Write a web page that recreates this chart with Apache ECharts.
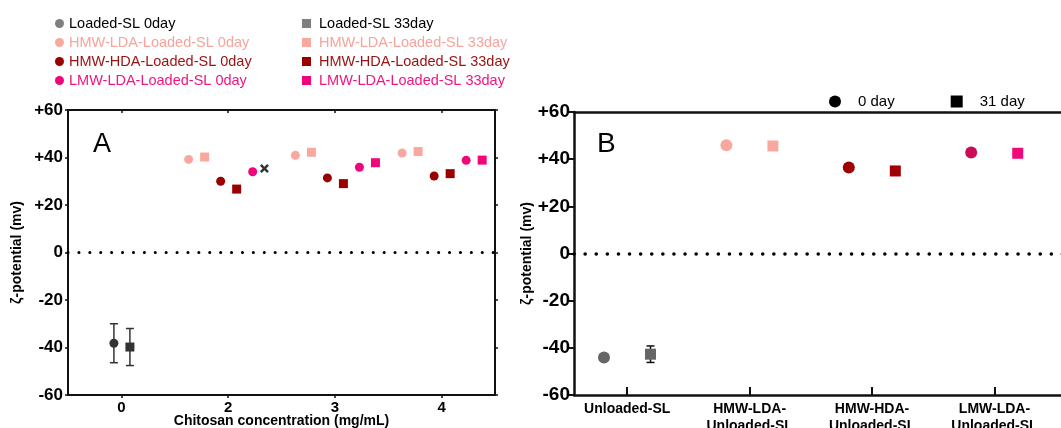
<!DOCTYPE html>
<html>
<head>
<meta charset="utf-8">
<script src="https://cdn.jsdelivr.net/npm/echarts@6/dist/echarts.min.js"></script>
<style>html,body{margin:0;padding:0;background:#fff}#c{width:1061px;height:428px}</style>
</head>
<body>
<div id="c"></div>
<script>
// ---------- Panel A data ----------
const aTickLabels = ['0', '2', '3', '4'];           // chitosan concentration (mg/mL)
const loadedSL0 = [-38.2, null, null, null];
const loadedSL33 = [-39.8, null, null, null];
const loadedSL0Err = [8.2, null, null, null];
const loadedSL33Err = [7.8, null, null, null];
const hmwLda0 = [null, 39.2, 40.9, 41.9];
const hmwLda33 = [null, 40.2, 42.2, 42.5];
const hmwHda0 = [null, 30.0, 31.4, 32.2];
const hmwHda33 = [null, 26.7, 29.0, 33.2];
const lmwLda0 = [null, 34.0, 35.9, 38.8];
const lmwLda33 = [null, null, 37.8, 38.9];
const lmwLda33Cross = [null, 35.4, null, null];   // black "x" marker

// ---------- Panel B data ----------
const bCategories = ['Unloaded-SL', 'HMW-LDA-\nUnloaded-SL', 'HMW-HDA-\nUnloaded-SL', 'LMW-LDA-\nUnloaded-SL'];
const b0day = [-44.1, 45.9, 36.5, 42.8];
const b31day = [-42.7, 45.6, 35.0, 42.5];
const b31dayErr = [3.5, null, null, null];

// ---------- styling ----------
const FONT = "'Liberation Sans', Arial, sans-serif";
const C_LOADED = '#333333', C_LOADED_LEG = '#7f7f7f';
const C_HL = '#f9a8a0', C_HH = '#9b0000', C_LL = '#f0057a';
const bColors0 = ['#666666', '#f9a8a0', '#a00000', '#cc0a55'];
const bColors31 = ['#666666', '#f9a8a0', '#a00000', '#f0077a'];
const offA = [-0.37, -0.22, -0.07, 0.08, 0.23, 0.38];
const offB = 0.19;

function pts(arr, off) {
  const out = [];
  arr.forEach((v, i) => { if (v !== null) out.push([i + off, v]); });
  return out;
}
function errPts(vals, errs, off) {
  const out = [];
  vals.forEach((v, i) => { if (v !== null && errs[i] !== null) out.push([i + off, v - errs[i], v + errs[i]]); });
  return out;
}
function errRender(cap, color, w) {
  return function (params, api) {
    const x = api.value(0);
    const lo = api.coord([x, api.value(1)]);
    const hi = api.coord([x, api.value(2)]);
    return {
      type: 'group',
      children: [
        { type: 'line', shape: { x1: lo[0], y1: lo[1], x2: hi[0], y2: hi[1] }, style: { stroke: color, lineWidth: w } },
        { type: 'line', shape: { x1: lo[0] - cap, y1: lo[1], x2: lo[0] + cap, y2: lo[1] }, style: { stroke: color, lineWidth: w } },
        { type: 'line', shape: { x1: hi[0] - cap, y1: hi[1], x2: hi[0] + cap, y2: hi[1] }, style: { stroke: color, lineWidth: w } }
      ]
    };
  };
}
const crossPath = 'path://M2,0 L5,3 L8,0 L10,2 L7,5 L10,8 L8,10 L5,7 L2,10 L0,8 L3,5 L0,2 Z';

function scatterA(name, data, off, symbol, color) {
  return {
    name, type: 'scatter', xAxisIndex: 0, yAxisIndex: 0,
    symbol, symbolSize: 9, data: pts(data, off),
    itemStyle: { color, opacity: 1 }, z: 5
  };
}

const zeroLine = {
  silent: true, symbol: 'none', label: { show: false },
  lineStyle: { type: [0.1, 10.8], cap: 'round', width: 3, color: '#000' },
  data: [{ yAxis: 0 }]
};

const yFmt = v => (v > 0 ? '+' + v : String(v));
const lineA = { show: true, onZero: false, lineStyle: { color: '#111', width: 2 } };
const lineB = { show: true, onZero: false, lineStyle: { color: '#111', width: 2.5 } };

const chart = echarts.init(document.getElementById('c'));
const legendText = { fontFamily: FONT, fontSize: 14.5 };
const pad2 = [0, 0, 0, 3];
chart.setOption({
  animation: false,
  backgroundColor: '#fff',
  legend: [
    {
      left: 50, top: 11, orient: 'vertical', itemWidth: 9, itemHeight: 9, itemGap: 4,
      textStyle: legendText,
      data: [
        { name: 'Loaded-SL 0day', icon: 'circle', itemStyle: { color: C_LOADED_LEG }, textStyle: { color: '#000' } },
        { name: 'HMW-LDA-Loaded-SL 0day', icon: 'circle', itemStyle: { color: C_HL }, textStyle: { color: '#f7a49c' } },
        { name: 'HMW-HDA-Loaded-SL 0day', icon: 'circle', itemStyle: { color: C_HH }, textStyle: { color: '#9b1010' } },
        { name: 'LMW-LDA-Loaded-SL 0day', icon: 'circle', itemStyle: { color: C_LL }, textStyle: { color: '#f0157f' } }
      ]
    },
    {
      left: 297, top: 11, orient: 'vertical', itemWidth: 9, itemHeight: 9, itemGap: 4,
      textStyle: Object.assign({ padding: pad2 }, legendText),
      data: [
        { name: 'Loaded-SL 33day', icon: 'rect', itemStyle: { color: C_LOADED_LEG }, textStyle: { color: '#000', padding: pad2 } },
        { name: 'HMW-LDA-Loaded-SL 33day', icon: 'rect', itemStyle: { color: C_HL }, textStyle: { color: '#f7a49c', padding: pad2 } },
        { name: 'HMW-HDA-Loaded-SL 33day', icon: 'rect', itemStyle: { color: C_HH }, textStyle: { color: '#9b1010', padding: pad2 } },
        { name: 'LMW-LDA-Loaded-SL 33day', icon: 'rect', itemStyle: { color: C_LL }, textStyle: { color: '#f0157f', padding: pad2 } }
      ]
    },
    {
      left: 824, top: 89, orient: 'horizontal', itemWidth: 12, itemHeight: 12, itemGap: 56,
      textStyle: { color: '#000', padding: [0, 0, 0, 12], fontFamily: FONT, fontSize: 15 },
      data: [
        { name: '0 day', icon: 'circle', itemStyle: { color: '#000' } },
        { name: '31 day', icon: 'rect', itemStyle: { color: '#000' } }
      ]
    }
  ],
  graphic: [
    { type: 'text', left: 93, top: 131, style: { text: 'A', font: '27px ' + FONT, fill: '#000' } },
    { type: 'text', left: 597, top: 130, style: { text: 'B', font: '28px ' + FONT, fill: '#000' } }
  ],
  grid: [
    { left: 68, top: 110, width: 427, height: 285, outerBoundsMode: 'none', containLabel: false },
    { left: 574, top: 112, width: 489, height: 283, outerBoundsMode: 'none', containLabel: false }
  ],
  xAxis: [
    {
      gridIndex: 0, type: 'value', position: 'bottom', min: -0.5, max: 3.5,
      name: 'Chitosan concentration (mg/mL)', nameLocation: 'middle', nameGap: 19, nameMoveOverlap: false,
      nameTextStyle: { fontFamily: FONT, fontWeight: 'bold', fontSize: 14, color: '#000' },
      axisLine: lineA,
      axisTick: { show: true, inside: false, length: 3, customValues: [0, 1, 2, 3], lineStyle: { color: '#111', width: 1.5 } },
      axisLabel: { fontFamily: FONT, fontWeight: 'bold', fontSize: 15, color: '#000', margin: 5, customValues: [0, 1, 2, 3], formatter: v => aTickLabels[Math.round(v)] },
      splitLine: { show: false }
    },
    {
      gridIndex: 0, type: 'value', position: 'top', min: -0.5, max: 3.5,
      axisLine: lineA,
      axisTick: { show: true, inside: true, length: 3, customValues: [0, 1, 2, 3], lineStyle: { color: '#111', width: 1.5 } },
      axisLabel: { show: false }, splitLine: { show: false }
    },
    {
      gridIndex: 1, type: 'value', position: 'bottom', min: -0.435, max: 3.56,
      axisLine: lineB,
      axisTick: { show: true, inside: true, length: 8, customValues: [0, 1, 2, 3], lineStyle: { color: '#111', width: 2 } },
      axisLabel: {
        fontFamily: FONT, fontWeight: 'bold', fontSize: 14, color: '#000', margin: 6, lineHeight: 17,
        verticalAlign: 'top',
        customValues: [0, 1, 2, 3], formatter: v => bCategories[Math.round(v)]
      },
      splitLine: { show: false }
    },
    {
      gridIndex: 1, type: 'value', position: 'top', min: -0.435, max: 3.56,
      axisLine: lineB,
      axisTick: { show: false }, axisLabel: { show: false }, splitLine: { show: false }
    }
  ],
  yAxis: [
    {
      gridIndex: 0, type: 'value', position: 'left', min: -60, max: 60, interval: 20,
      name: 'ζ-potential (mv)', nameLocation: 'middle', nameGap: 44, nameRotate: 90,
      nameTextStyle: { fontFamily: FONT, fontWeight: 'bold', fontSize: 14, color: '#000' },
      axisLine: lineA,
      axisTick: { show: true, inside: false, length: 3, lineStyle: { color: '#111', width: 1.5 } },
      axisLabel: { fontFamily: FONT, fontWeight: 'bold', fontSize: 17, color: '#000', margin: 5, formatter: yFmt },
      splitLine: { show: false }
    },
    {
      gridIndex: 0, type: 'value', position: 'right', min: -60, max: 60, interval: 20,
      axisLine: lineA,
      axisTick: { show: true, inside: false, length: 3, lineStyle: { color: '#111', width: 1.5 } },
      axisLabel: { show: false }, splitLine: { show: false }
    },
    {
      gridIndex: 1, type: 'value', position: 'left', min: -60, max: 60, interval: 20,
      name: 'ζ-potential (mv)', nameLocation: 'middle', nameGap: 40, nameRotate: 90,
      nameTextStyle: { fontFamily: FONT, fontWeight: 'bold', fontSize: 14, color: '#000' },
      axisLine: lineB,
      axisTick: { show: true, inside: false, length: 5, lineStyle: { color: '#111', width: 2 } },
      axisLabel: { fontFamily: FONT, fontWeight: 'bold', fontSize: 19, color: '#000', margin: 4, formatter: yFmt },
      splitLine: { show: false }
    }
  ],
  series: [
    // zero lines
    { type: 'line', xAxisIndex: 0, yAxisIndex: 0, data: [], markLine: zeroLine },
    { type: 'line', xAxisIndex: 2, yAxisIndex: 2, data: [], markLine: Object.assign({}, zeroLine, { lineStyle: { type: [0.1, 11], cap: 'round', width: 3.5, color: '#000' } }) },
    // panel A error bars
    { type: 'custom', xAxisIndex: 0, yAxisIndex: 0, renderItem: errRender(4, '#333', 1.5), data: errPts(loadedSL0, loadedSL0Err, -0.07), z: 3 },
    { type: 'custom', xAxisIndex: 0, yAxisIndex: 0, renderItem: errRender(4, '#333', 1.5), data: errPts(loadedSL33, loadedSL33Err, 0.08), z: 3 },
    // panel A points
    scatterA('Loaded-SL 0day', loadedSL0, -0.07, 'circle', C_LOADED),
    scatterA('Loaded-SL 33day', loadedSL33, 0.08, 'rect', C_LOADED),
    scatterA('HMW-LDA-Loaded-SL 0day', hmwLda0, offA[0], 'circle', C_HL),
    scatterA('HMW-LDA-Loaded-SL 33day', hmwLda33, offA[1], 'rect', C_HL),
    scatterA('HMW-HDA-Loaded-SL 0day', hmwHda0, offA[2], 'circle', C_HH),
    scatterA('HMW-HDA-Loaded-SL 33day', hmwHda33, offA[3], 'rect', C_HH),
    scatterA('LMW-LDA-Loaded-SL 0day', lmwLda0, offA[4], 'circle', C_LL),
    scatterA('LMW-LDA-Loaded-SL 33day', lmwLda33, offA[5], 'rect', C_LL),
    { type: 'scatter', xAxisIndex: 0, yAxisIndex: 0, symbol: crossPath, symbolSize: 9, data: pts(lmwLda33Cross, 0.34), itemStyle: { color: '#000' }, z: 5 },
    // panel B error bar
    { type: 'custom', xAxisIndex: 2, yAxisIndex: 2, renderItem: errRender(4, '#111', 1.5), data: errPts(b31day, b31dayErr, offB), z: 3 },
    // panel B points
    {
      name: '0 day', type: 'scatter', xAxisIndex: 2, yAxisIndex: 2, symbol: 'circle', symbolSize: 12,
      itemStyle: { color: '#000', opacity: 1 }, z: 5,
      data: b0day.map((v, i) => ({ value: [i - offB, v], itemStyle: { color: bColors0[i] } }))
    },
    {
      name: '31 day', type: 'scatter', xAxisIndex: 2, yAxisIndex: 2, symbol: 'rect', symbolSize: 11,
      itemStyle: { color: '#000', opacity: 1 }, z: 5,
      data: b31day.map((v, i) => ({ value: [i + offB, v], itemStyle: { color: bColors31[i] } }))
    }
  ]
});
</script>
</body>
</html>
